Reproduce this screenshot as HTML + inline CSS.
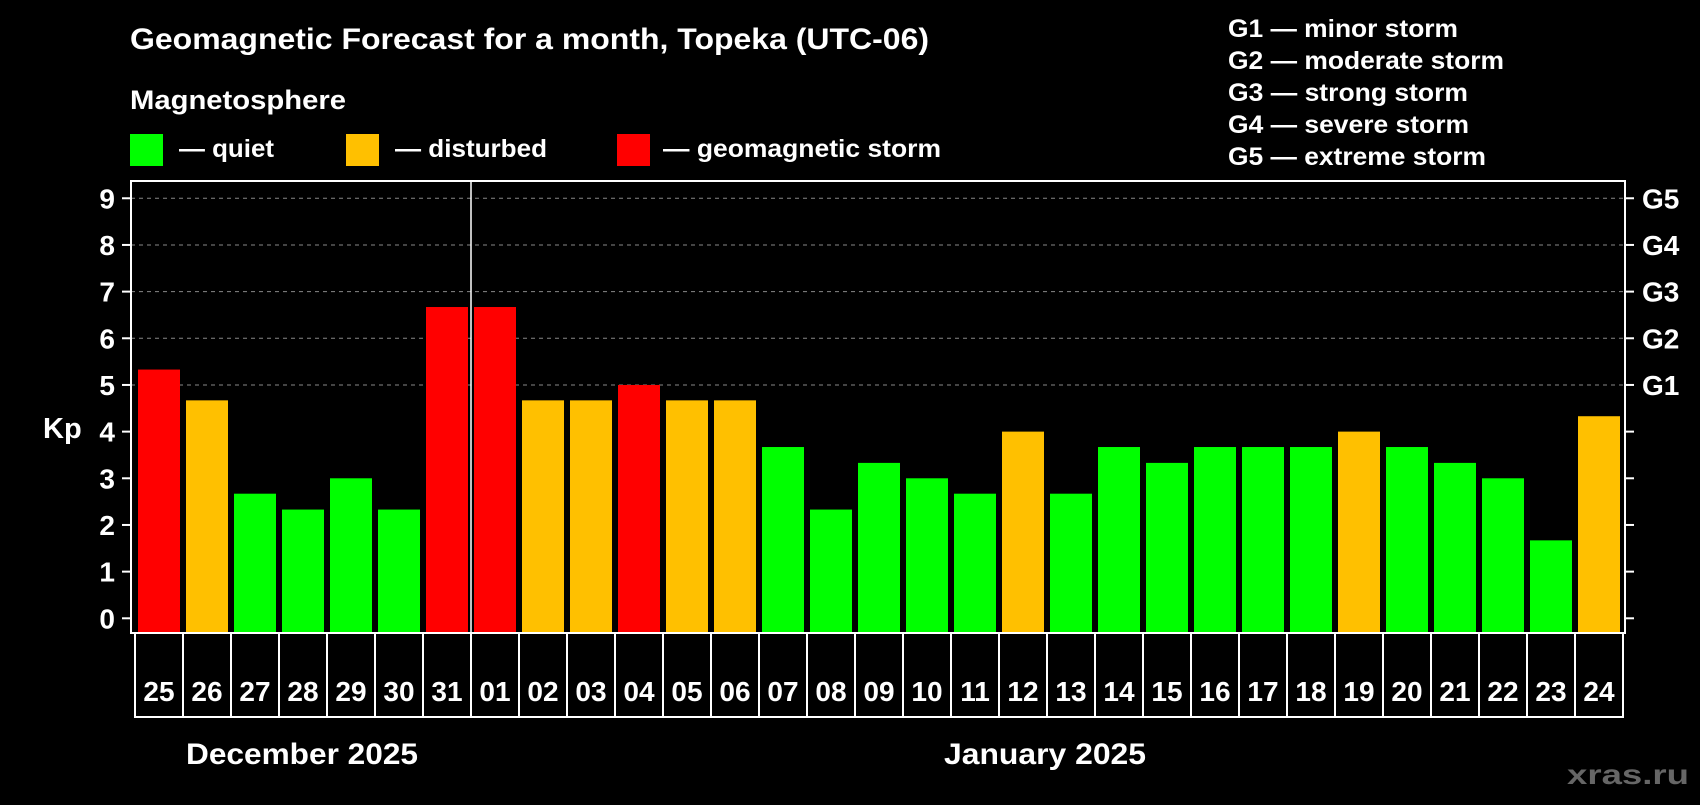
<!DOCTYPE html>
<html><head><meta charset="utf-8"><style>
body{margin:0;background:#000;width:1700px;height:800px;overflow:hidden;font-family:"Liberation Sans",sans-serif}
svg text{font-family:"Liberation Sans",sans-serif;font-weight:bold;fill:#fff}
</style></head><body>
<svg id="chart" width="1700" height="800">
<text x="130" y="49" font-size="30" textLength="799" lengthAdjust="spacingAndGlyphs">Geomagnetic Forecast for a month, Topeka (UTC-06)</text>
<text x="130" y="109" font-size="27" textLength="216" lengthAdjust="spacingAndGlyphs">Magnetosphere</text>
<rect x="130" y="134" width="33" height="32" fill="#00ff00"/>
<text x="179" y="157" font-size="25" textLength="95" lengthAdjust="spacingAndGlyphs">— quiet</text>
<rect x="346" y="134" width="33" height="32" fill="#ffc000"/>
<text x="395" y="157" font-size="25" textLength="152" lengthAdjust="spacingAndGlyphs">— disturbed</text>
<rect x="617" y="134" width="33" height="32" fill="#ff0000"/>
<text x="663" y="157" font-size="25" textLength="278" lengthAdjust="spacingAndGlyphs">— geomagnetic storm</text>
<g font-size="25">
<text x="1228" y="37" textLength="230" lengthAdjust="spacingAndGlyphs">G1 — minor storm</text>
<text x="1228" y="69" textLength="276" lengthAdjust="spacingAndGlyphs">G2 — moderate storm</text>
<text x="1228" y="101" textLength="240" lengthAdjust="spacingAndGlyphs">G3 — strong storm</text>
<text x="1228" y="133" textLength="241" lengthAdjust="spacingAndGlyphs">G4 — severe storm</text>
<text x="1228" y="165" textLength="258" lengthAdjust="spacingAndGlyphs">G5 — extreme storm</text>
</g>
<text x="43" y="438" font-size="29">Kp</text>
<g id="grid"></g><g id="bars"></g><g id="axes"></g>
<text x="186" y="764" font-size="30" textLength="232" lengthAdjust="spacingAndGlyphs">December 2025</text>
<text x="944" y="764" font-size="30" textLength="202" lengthAdjust="spacingAndGlyphs">January 2025</text>
<text x="1567" y="784" font-size="28" textLength="122" lengthAdjust="spacingAndGlyphs" style="fill:#666">xras.ru</text>
</svg>
<script>
const days=["25","26","27","28","29","30","31","01","02","03","04","05","06","07","08","09","10","11","12","13","14","15","16","17","18","19","20","21","22","23","24"];
const kpValues=[5.33,4.67,2.67,2.33,3,2.33,6.67,6.67,4.67,4.67,5,4.67,4.67,3.67,2.33,3.33,3,2.67,4,2.67,3.67,3.33,3.67,3.67,3.67,4,3.67,3.33,3,1.67,4.33];
const yTicks=[0,1,2,3,4,5,6,7,8,9];
const gLabels=["G1","G2","G3","G4","G5"];
const NS="http://www.w3.org/2000/svg";
const L=131,R=1625,T=181,B=633,Y0=618.3,UNIT=46.67,X0=138,STEP=48,BW=42;
const y=v=>Y0-v*UNIT, x=i=>X0+i*STEP;
function mk(t,a,p){const e=document.createElementNS(NS,t);for(const k in a)e.setAttribute(k,a[k]);p.appendChild(e);return e;}
const grid=document.getElementById('grid'),bars=document.getElementById('bars'),axes=document.getElementById('axes');
yTicks.forEach(v=>{
 if(v>=5){const g=mk('line',{x1:L,x2:R,y1:y(v),y2:y(v),stroke:'#888','stroke-dasharray':'4,4','stroke-width':1},grid);
 
 }
 const t1=mk('line',{x1:L-9,x2:L,y1:y(v),y2:y(v),stroke:'#fff','stroke-width':2},axes);
 
 
 const t2=mk('line',{x1:R,x2:R+9,y1:y(v),y2:y(v),stroke:'#fff','stroke-width':2},axes);
 
 
 const lb=mk('text',{x:115,y:y(v)+10,'font-size':28,'text-anchor':'end'},axes);lb.textContent=v;
 
 
 if(v>=5){const gl=mk('text',{x:1642,y:y(v)+10,'font-size':28},axes);gl.textContent=gLabels[v-5];
 
 }
});
kpValues.forEach((v,i)=>{
 const c=v>=5?'#ff0000':v>=4?'#ffc000':'#00ff00';
 const b=mk('rect',{x:x(i),y:y(v),width:BW,height:B-y(v),fill:c},bars);
 
 
 const cell=mk('rect',{x:x(i)-3,y:B,width:STEP,height:84,fill:'none',stroke:'#fff','stroke-width':2},axes);
 
 
 const t=mk('text',{x:x(i)+BW/2,y:701,'font-size':28,'text-anchor':'middle'},axes);t.textContent=days[i];
 
 
});
const box=mk('rect',{x:L,y:T,width:R-L,height:B-T,fill:'none',stroke:'#fff','stroke-width':2},axes);


const sep=mk('line',{x1:x(7)-3,x2:x(7)-3,y1:T,y2:B,stroke:'#fff','stroke-width':1.5},axes);


</script>
</body></html>
